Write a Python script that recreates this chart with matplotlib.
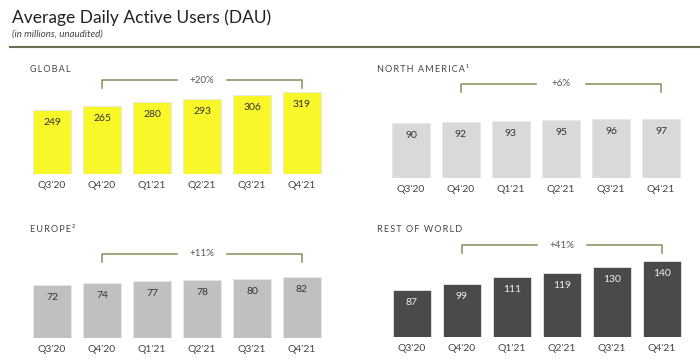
import matplotlib.pyplot as plt

plt.rcParams['font.family'] = ['Lato', 'DejaVu Sans']

quarters = ["Q3'20", "Q4'20", "Q1'21", "Q2'21", "Q3'21", "Q4'21"]
global_dau = [249, 265, 280, 293, 306, 319]
na_dau = [90, 92, 93, 95, 96, 97]
europe_dau = [72, 74, 77, 78, 80, 82]
row_dau = [87, 99, 111, 119, 130, 140]

panel_names = ['GLOBAL', 'NORTH AMERICA\u00b9', 'EUROPE\u00b2', 'REST OF WORLD']
growth = ['+20%', '+6%', '+11%', '+41%']

W, H = 700, 360
fig = plt.figure(figsize=(7, 3.6), dpi=100)

def px_axes(left, bottom, width, height):
    # pixel box measured from top-left of the image
    return fig.add_axes([left / W, 1 - bottom / H, width / W, height / H])

def spaced(s):
    # rough letter spacing for the small caps headings
    return '\u2009'.join(s)

# layout: left px, bar bottom px, px per unit, bracket y px, title x/y px
panels = [
    (global_dau, 27, 174, 0.257, 80, 30, 70, '#f7f72a', '#333333'),
    (na_dau, 386, 178, 0.61, 84, 377, 70, '#d9d9d9', '#333333'),
    (europe_dau, 27, 338, 0.74, 254, 30, 229, '#c0c0c0', '#333333'),
    (row_dau, 387, 337, 0.54, 245, 377, 229, '#4a4a4a', '#f0f0f0'),
]

olive = '#8a8a5c'

for k, (vals, left, bottom, scale, bry, tx, ty, col, tcol) in enumerate(panels):
    hpx = 140
    ax = px_axes(left, bottom, 300, hpx)
    ax.set_xlim(-0.5, 5.5)
    ax.set_ylim(0, hpx / scale)
    x = range(len(vals))
    ax.bar(x, vals, width=0.77, color=col, edgecolor='#e8e8e8', linewidth=0.6)
    for i, v in enumerate(vals):
        ax.annotate(str(v), (i, v), xytext=(0, -9), textcoords='offset points',
                    ha='center', va='center', fontsize=7.5, color=tcol)
    ax.set_xticks(list(x))
    ax.set_xticklabels(quarters, fontsize=7.5, color='#444444')
    ax.tick_params(axis='x', length=0, pad=5)
    ax.set_yticks([])
    for s in ax.spines.values():
        s.set_visible(False)
    ax.patch.set_alpha(0)

    # growth bracket from Q4'20 to Q4'21
    yb = (bottom - bry) / scale
    ytk = (bottom - bry - 8) / scale
    ax.plot([1, 1, 2.5], [ytk, yb, yb], color=olive, lw=1.1, clip_on=False)
    ax.plot([3.5, 5, 5], [yb, yb, ytk], color=olive, lw=1.1, clip_on=False)
    ax.text(3, yb, growth[k], ha='center', va='center', fontsize=7,
            color='#555555', clip_on=False)

    fig.text(tx / W, 1 - ty / H, spaced(panel_names[k]), ha='left',
             va='center', fontsize=6.5, color='#444444')

fig.text(12 / W, 1 - 18 / H, 'Average Daily Active Users (DAU)', ha='left',
         va='center', fontsize=12.5, color='#222222')
fig.text(12 / W, 1 - 34 / H, '(in millions, unaudited)', ha='left',
         va='center', fontsize=7, style='italic', color='#444444')
fig.add_artist(plt.Line2D([10 / W, 1], [1 - 47 / H, 1 - 47 / H],
                          color='#6e6e58', lw=1.5, transform=fig.transFigure))

fig.savefig('out.png', dpi=100)
